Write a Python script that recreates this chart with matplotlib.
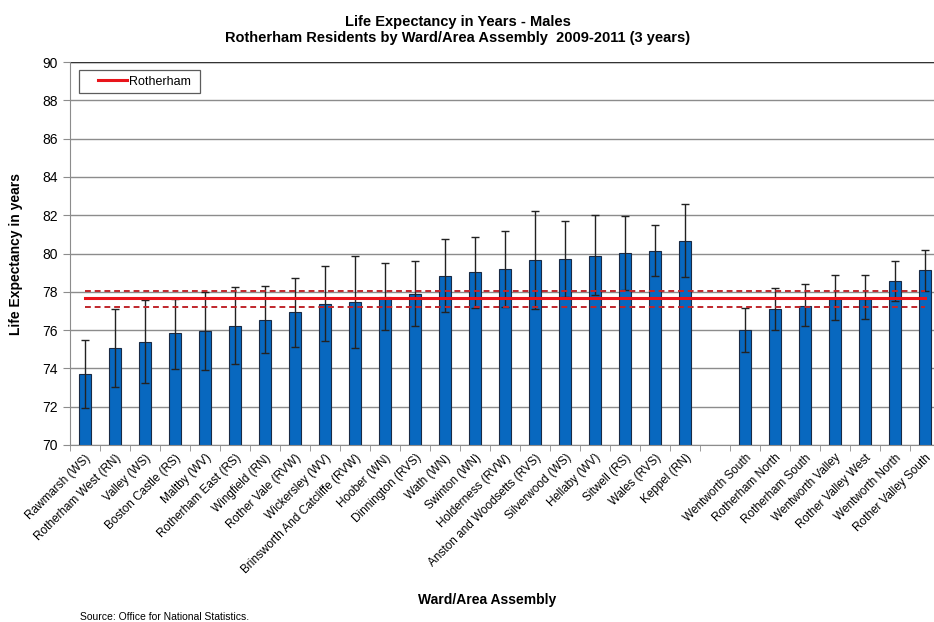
import numpy as np
import matplotlib
matplotlib.use("Agg")
import matplotlib.pyplot as plt
from matplotlib.legend_handler import HandlerLine2D

plt.rcParams['font.family'] = ['Liberation Sans', 'DejaVu Sans']

# wards, a blank slot, then area assemblies
areas = ['Rawmarsh (WS)', 'Rotherham West (RN)', 'Valley (WS)', 'Boston Castle (RS)',
         'Maltby (WV)', 'Rotherham East (RS)', 'Wingfield (RN)', 'Rother Vale (RVW)',
         'Wickersley (WV)', 'Brinsworth And Catcliffe (RVW)', 'Hoober (WN)',
         'Dinnington (RVS)', 'Wath (WN)', 'Swinton (WN)', 'Holderness (RVW)',
         'Anston and Woodsetts (RVS)', 'Silverwood (WS)', 'Hellaby (WV)', 'Sitwell (RS)',
         'Wales (RVS)', 'Keppel (RN)', '',
         'Wentworth South', 'Rotherham North', 'Rotherham South', 'Wentworth Valley',
         'Rother Valley West', 'Wentworth North', 'Rother Valley South']

life_exp = [73.69, 75.07, 75.40, 75.83, 75.94, 76.21, 76.54, 76.93, 77.38, 77.45,
            77.73, 77.87, 78.81, 79.02, 79.19, 79.68, 79.71, 79.89, 80.01, 80.13, 80.67,
            np.nan,
            76.01, 77.09, 77.28, 77.62, 77.62, 78.56, 79.14]
ci_upper = [75.48, 77.09, 77.57, 77.64, 78.00, 78.23, 78.29, 78.70, 79.33, 79.86,
            79.49, 79.59, 80.74, 80.85, 81.16, 82.24, 81.70, 81.99, 81.96, 81.47, 82.57,
            np.nan,
            77.14, 78.18, 78.41, 78.86, 78.86, 79.59, 80.20]
ci_lower = [71.92, 73.01, 73.25, 73.98, 73.92, 74.21, 74.79, 75.13, 75.45, 75.05,
            76.00, 76.20, 76.93, 77.17, 77.22, 77.09, 77.72, 77.82, 78.09, 78.81, 78.76,
            np.nan,
            74.86, 76.01, 76.20, 76.51, 76.56, 77.52, 78.06]

rotherham = 77.66
rotherham_upper = 78.03
rotherham_lower = 77.22

x = np.arange(len(areas))
vals = np.array(life_exp)
yerr = [vals - np.array(ci_lower), np.array(ci_upper) - vals]

fig = plt.figure(figsize=(9.34, 6.22), dpi=100)
ax = fig.add_axes([70 / 934, 177 / 622, 870 / 934, 383 / 622])

ax.set_axisbelow(True)
ax.yaxis.grid(True, color='#8c8c8c', linewidth=1)
ax.bar(x, np.nan_to_num(vals, nan=0), width=0.42, color='#0868bf',
       edgecolor='#1a2a44', linewidth=0.8, zorder=2)
ax.errorbar(x, vals, yerr=yerr, fmt='none', ecolor='#222222', elinewidth=1,
            capsize=3, capthick=1, zorder=3)

line, = ax.plot(x, np.full(len(x), rotherham), color='#e8141b', linewidth=2.2, zorder=4,
                label='Rotherham')
ax.plot(x, np.full(len(x), rotherham_upper), color='#c0262b', linewidth=1.4,
        linestyle=(0, (3, 2)), zorder=4)
ax.plot(x, np.full(len(x), rotherham_lower), color='#c0262b', linewidth=1.4,
        linestyle=(0, (3, 2)), zorder=4)

ax.set_xlim(-0.5, len(areas) - 0.5)
ax.set_ylim(70, 90)
ax.set_yticks(np.arange(70, 91, 2))
ax.tick_params(axis='y', labelsize=10, length=5, color='#8c8c8c')

ax.set_xticks(x)
ax.set_xticklabels(areas, rotation=45, ha='right', rotation_mode='anchor', fontsize=8.5)
ax.tick_params(axis='x', length=0, pad=5)
ax.set_xticks(np.arange(-0.5, len(areas), 1), minor=True)
ax.tick_params(axis='x', which='minor', length=4, color='#8c8c8c')

ax.axhline(90, color='#333333', linewidth=1, zorder=1)
for side in ['top', 'right']:
    ax.spines[side].set_visible(False)
for side in ['left', 'bottom']:
    ax.spines[side].set_color('#8c8c8c')

leg = ax.legend(handles=[line], labels=['Rotherham '], loc='upper left',
                bbox_to_anchor=(0.0103, 0.979), fancybox=False,
                edgecolor='#333333', fontsize=9, handlelength=3.4, handletextpad=0.15,
                borderpad=0.45, borderaxespad=0,
                handler_map={line: HandlerLine2D(xpad=1.1)})
leg.get_frame().set_linewidth(0.9)

ax.set_ylabel('Life Expectancy in years', fontsize=10, fontweight='bold', labelpad=14)
fig.text(458 / 934, 1 - 30 / 622,
         'Life Expectancy in Years - Males\nRotherham Residents by Ward/Area Assembly  2009-2011 (3 years)',
         ha='center', va='center', fontsize=10.5, fontweight='bold', linespacing=1.1)
fig.text(487 / 934, 1 - 600 / 622, 'Ward/Area Assembly', ha='center', va='center',
         fontsize=10, fontweight='bold')
fig.text(80 / 934, 1 - 617 / 622, 'Source: Office for National Statistics.',
         ha='left', va='center', fontsize=7.5)

fig.savefig('out.png', dpi=100)
